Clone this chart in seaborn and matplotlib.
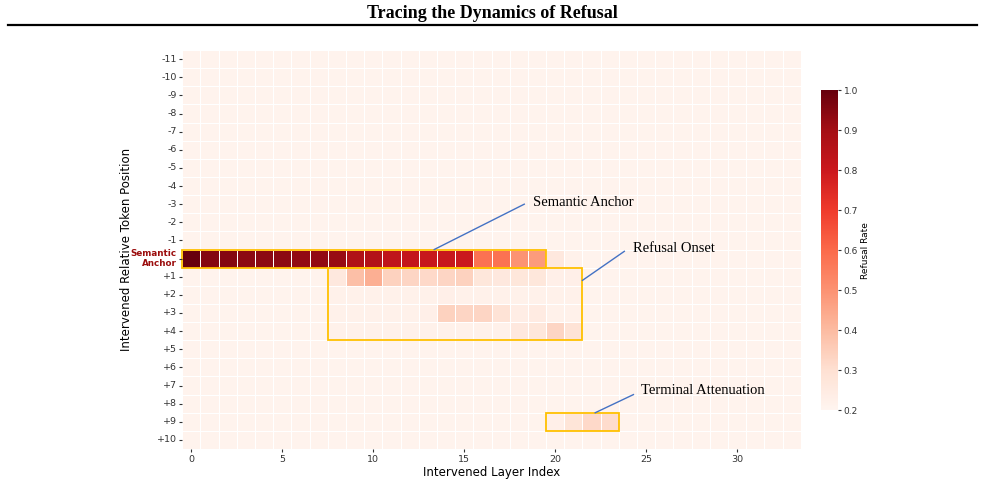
import numpy as np
import pandas as pd
import matplotlib
matplotlib.use("Agg")
import matplotlib.pyplot as plt
import seaborn as sns
from matplotlib.patches import Rectangle
from matplotlib.lines import Line2D

# layer index on x, relative token position on y
layers = list(range(34))
positions = ["-11", "-10", "-9", "-8", "-7", "-6", "-5", "-4", "-3", "-2", "-1",
             "Semantic\nAnchor",
             "+1", "+2", "+3", "+4", "+5", "+6", "+7", "+8", "+9", "+10"]

# baseline refusal rate (no effect of intervention)
base = 0.21

# rows that differ from the baseline
anchor_row = [1.00, 0.95, 0.95, 0.94, 0.94, 0.94, 0.93, 0.93, 0.92, 0.87,
              0.86, 0.83, 0.82, 0.81, 0.81, 0.80, 0.58, 0.58, 0.50, 0.48,
              0.26, 0.22, 0.21, 0.21, 0.21, 0.21, 0.21, 0.21, 0.21, 0.21,
              0.21, 0.21, 0.21, 0.21]
plus1_row = [0.21, 0.21, 0.21, 0.21, 0.21, 0.21, 0.21, 0.21, 0.26, 0.39,
             0.43, 0.34, 0.33, 0.32, 0.33, 0.34, 0.27, 0.26, 0.27, 0.27,
             0.23, 0.23, 0.21, 0.21, 0.21, 0.21, 0.21, 0.21, 0.21, 0.21,
             0.21, 0.21, 0.21, 0.21]
plus2_row = [0.21, 0.21, 0.21, 0.21, 0.21, 0.21, 0.21, 0.21, 0.22, 0.22,
             0.22, 0.22, 0.22, 0.22, 0.23, 0.22, 0.22, 0.22, 0.22, 0.22,
             0.22, 0.22, 0.21, 0.21, 0.21, 0.21, 0.21, 0.21, 0.21, 0.21,
             0.21, 0.21, 0.21, 0.21]
plus3_row = [0.21, 0.21, 0.21, 0.21, 0.21, 0.21, 0.21, 0.21, 0.22, 0.22,
             0.22, 0.22, 0.22, 0.23, 0.34, 0.33, 0.33, 0.29, 0.24, 0.25,
             0.22, 0.22, 0.21, 0.21, 0.21, 0.21, 0.21, 0.21, 0.21, 0.21,
             0.21, 0.21, 0.21, 0.21]
plus4_row = [0.21, 0.21, 0.21, 0.21, 0.21, 0.21, 0.21, 0.21, 0.22, 0.22,
             0.22, 0.22, 0.22, 0.22, 0.22, 0.22, 0.22, 0.22, 0.26, 0.27,
             0.33, 0.29, 0.21, 0.21, 0.21, 0.21, 0.21, 0.21, 0.21, 0.21,
             0.21, 0.21, 0.21, 0.21]
plus9_row = [0.21, 0.21, 0.21, 0.21, 0.21, 0.21, 0.21, 0.21, 0.21, 0.21,
             0.21, 0.21, 0.21, 0.21, 0.21, 0.21, 0.21, 0.21, 0.21, 0.21,
             0.23, 0.28, 0.32, 0.31, 0.21, 0.21, 0.21, 0.21, 0.21, 0.21,
             0.21, 0.21, 0.21, 0.21]

rows = {"Semantic\nAnchor": anchor_row, "+1": plus1_row, "+2": plus2_row,
        "+3": plus3_row, "+4": plus4_row, "+9": plus9_row}

df = pd.DataFrame(base, index=positions, columns=layers)
for name, vals in rows.items():
    df.loc[name] = vals

fig = plt.figure(figsize=(9.85, 4.83), dpi=100)
ax = fig.add_axes([0.185, 0.0704, 0.628, 0.826])
cax = fig.add_axes([0.8335, 0.151, 0.0175, 0.6625])

sns.heatmap(df, ax=ax, cbar_ax=cax, cmap="Reds", vmin=0.2, vmax=1.0,
            linewidths=0.45, linecolor="white", xticklabels=5, yticklabels=True,
            cbar_kws={"label": "Refusal Rate", "ticks": np.arange(0.2, 1.01, 0.1)})

tick_color = "#333333"
ax.tick_params(axis="both", labelsize=6.8, length=2, width=0.8, pad=2,
               colors=tick_color)
ax.set_yticklabels(ax.get_yticklabels(), rotation=0)
ax.set_xticklabels(ax.get_xticklabels(), rotation=0)
for lab in ax.get_yticklabels():
    if "Semantic" in lab.get_text():
        lab.set_color("#9b0d0d")
        lab.set_fontweight("bold")
        lab.set_fontsize(6.3)
        lab.set_horizontalalignment("right")
        lab.set_multialignment("right")
ax.set_xlabel("Intervened Layer Index", fontsize=8.5, labelpad=2)
ax.set_ylabel("Intervened Relative Token Position", fontsize=8.5, labelpad=-2)

cax.tick_params(labelsize=6.5, length=2, width=0.8, pad=2, colors=tick_color)
cax.set_yticklabels([f"{t:.1f}" for t in np.arange(0.2, 1.01, 0.1)])
cax.set_ylabel("Refusal Rate", fontsize=6.5, labelpad=2)

# highlight boxes
box_kw = dict(fill=False, edgecolor="#FFC000", linewidth=1.3, clip_on=False)
ax.add_patch(Rectangle((0, 11), 20, 1, **box_kw))
ax.add_patch(Rectangle((8, 12), 14, 4, **box_kw))
ax.add_patch(Rectangle((20, 20), 4, 1, **box_kw))

# callouts
line_color = "#4472C4"
serif = ["Liberation Serif", "DejaVu Serif"]
callouts = [
    ("Semantic Anchor", (13.85, 11.0), (18.8, 8.5), (19.3, 8.4)),
    ("Refusal Onset", (22.0, 12.7), (24.3, 11.1), (24.8, 10.95)),
    ("Terminal Attenuation", (22.7, 20.0), (24.8, 19.0), (25.2, 18.8)),
]
for text, p0, p1, pt in callouts:
    ax.plot([p0[0], p1[0]], [p0[1], p1[1]], color=line_color, lw=1.0)
    ax.text(pt[0], pt[1], text, fontsize=10.5, family=serif, ha="left", va="center")

fig.text(0.5, 0.972, "Tracing the Dynamics of Refusal", ha="center", va="center",
         fontsize=13, fontweight="bold", family=serif)
fig.add_artist(Line2D([0.008, 0.992], [0.948, 0.948], color="black", lw=1.6,
                      transform=fig.transFigure))

fig.savefig("out.png", dpi=100)
